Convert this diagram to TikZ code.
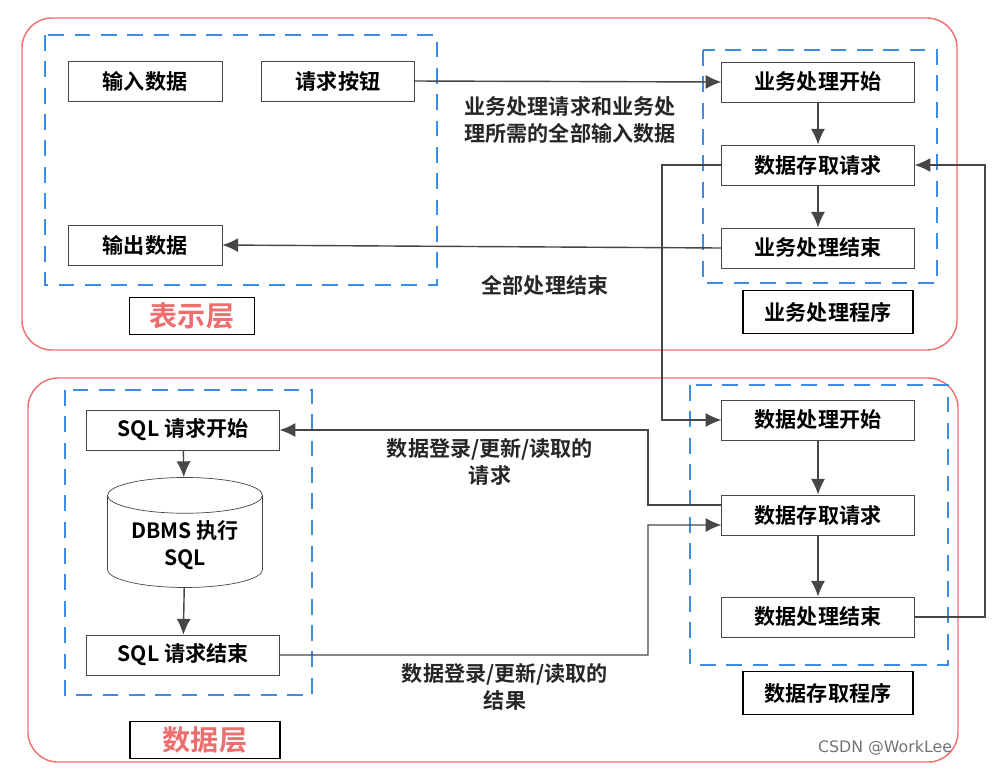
\documentclass[tikz,border=0pt]{standalone}
\usepackage{fontspec}
\setmainfont{Noto Sans CJK SC}[BoldFont={Noto Sans CJK SC Bold}]
\setsansfont{DejaVu Sans}
\usetikzlibrary{positioning,shapes.geometric,arrows.meta}
\definecolor{layerred}{RGB}{236,110,110}
\definecolor{groupblue}{RGB}{60,140,225}
\definecolor{linegray}{RGB}{70,70,70}
\tikzstyle{arrow} = [thick, draw=linegray, -{Latex[length=9pt,width=8pt]}]

\begin{document}
\begin{tikzpicture}[x=0.02cm, y=-0.02cm,
			proc/.style={
					rectangle,
					draw=linegray,
					fill=white,
					minimum width=3.85cm,
					minimum height=0.8cm,
					inner sep=2pt,
					font=\fontsize{12}{14}\selectfont\bfseries,
				},
			tag/.style={
					rectangle,
					draw=black,
					thick,
					fill=white,
					inner sep=3pt,
					font=\fontsize{12}{14}\selectfont\bfseries,
				},
			layer/.style={draw=layerred, thick, rounded corners=0.6cm},
			group/.style={draw=groupblue, thick, dash pattern=on 9pt off 6pt},
			note/.style={font=\fontsize{12}{15}\selectfont\bfseries, align=center, text=black!85},
		]
		\useasboundingbox (0,0) rectangle (999,772);

		% Layers and groups
		\draw[layer] (22,18) rectangle (957,350);
		\draw[layer] (28,378) rectangle (958,762);
		\draw[group] (45,35) rectangle (437,285);
		\draw[group] (703,50) rectangle (937,283);
		\draw[group] (65,390) rectangle (312,695);
		\draw[group] (690,385) rectangle (948,665);

		% Presentation layer
		\node[proc, minimum width=3.08cm] (input) at (145,81) {输入数据};
		\node[proc, minimum width=3.06cm] (button) at (338,81) {请求按钮};
		\node[proc, minimum width=3.08cm] (output) at (145,245) {输出数据};
		\node[tag, text=layerred, font=\fontsize{16}{18}\selectfont\bfseries, minimum width=2.5cm] (view) at (192,316) {表示层};

		% Business program
		\node[proc] (bstart) at (818,82) {业务处理开始};
		\node[proc] (breq) at (818,165) {数据存取请求};
		\node[proc] (bend) at (818,248) {业务处理结束};
		\node[tag, minimum width=3.4cm, minimum height=0.85cm] (bprog) at (828,312) {业务处理程序};

		% Data access program
		\node[proc] (dstart) at (818,420) {数据处理开始};
		\node[proc] (dreq) at (818,515) {数据存取请求};
		\node[proc] (dend) at (818,617) {数据处理结束};
		\node[tag, minimum width=3.4cm, minimum height=0.85cm] (dprog) at (828,693) {数据存取程序};

		% Data layer
		\node[proc] (sqlstart) at (183,430) {SQL 请求开始};
		\node[cylinder, shape border rotate=90, draw=linegray, aspect=0.3,
			minimum width=3.1cm, minimum height=2.2cm, align=center,
			font=\fontsize{12}{15}\selectfont\bfseries] (dbms) at (185,545) {DBMS 执行\\SQL};
		\node[proc] (sqlend) at (183,655) {SQL 请求结束};
		\node[tag, text=layerred, font=\fontsize{16}{18}\selectfont\bfseries, minimum width=3cm] (data) at (205,740) {数据层};

		% Connections
		\draw[arrow] (button.east) -- (bstart.west);
		\node[note] (reqnote) at (570,120) {业务处理请求和业务处\\理所需的全部输入数据};
		\draw[arrow] (bend.west) -- (output.east);
		\node[note] (endnote) at (545,285) {全部处理结束};
		\draw[arrow] (bstart) -- (breq);
		\draw[arrow] (breq) -- (bend);
		\draw[arrow] (dstart) -- (dreq);
		\draw[arrow] (dreq) -- (dend);
		\draw[arrow] (sqlstart) -- (dbms);
		\draw[arrow] (dbms) -- (sqlend);
		\draw[arrow] (breq.west) -| (662,420) -- (dstart.west);
		\draw[arrow] (dend.east) -| (985,165) -- (breq.east);
		\draw[arrow] ([yshift=0.2cm]dreq.west) -| (648,430) -- (sqlstart.east);
		\draw[arrow] (sqlend.east) -| (648,525) -- ([yshift=-0.2cm]dreq.west);
		\node[note] (qnote) at (490,462) {数据登录/更新/读取的\\请求};
		\node[note] (rnote) at (505,687) {数据登录/更新/读取的\\结果};

		\node[font=\sffamily\fontsize{9}{11}\selectfont, text=black!55] (mark) at (885,748) {CSDN @WorkLee};
	\end{tikzpicture}
\end{document}
